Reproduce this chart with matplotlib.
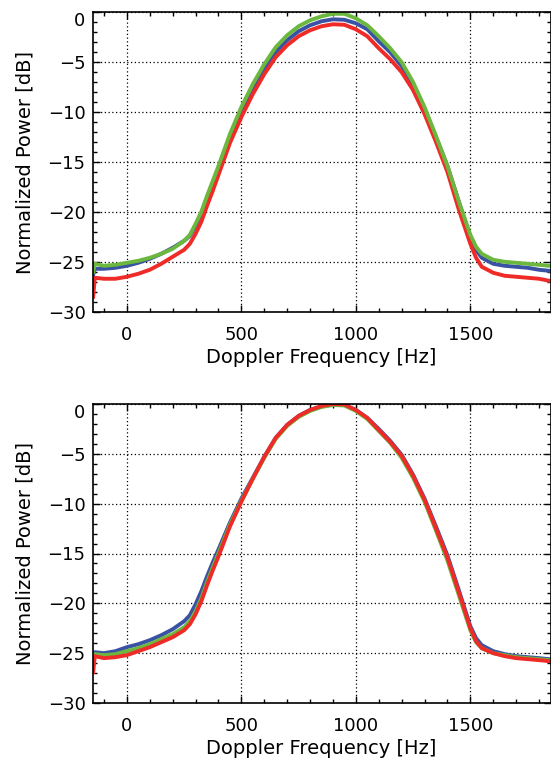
import matplotlib
matplotlib.use("Agg")
import matplotlib.pyplot as plt
from matplotlib.ticker import MultipleLocator

plt.rcParams['font.family'] = ['DejaVu Sans']
plt.rcParams['font.size'] = 13

# Doppler frequency samples [Hz]
freq = [-147, -140, -100, -50, 0, 50, 100, 150, 200, 250, 275, 300, 325, 350,
        375, 400, 450, 500, 550, 600, 650, 700, 750, 800, 850, 900, 950, 1000,
        1050, 1100, 1150, 1200, 1250, 1300, 1350, 1400, 1450, 1500, 1525, 1550,
        1600, 1650, 1700, 1750, 1800, 1843]

# upper panel [dB]
top_blue = [-26.3, -25.7, -25.7, -25.6, -25.4, -25.1, -24.7, -24.2, -23.6, -22.9,
            -22.4, -21.4, -20.2, -18.7, -17.2, -15.7, -12.6, -9.9, -7.6, -5.6,
            -4.0, -2.8, -1.9, -1.3, -0.9, -0.7, -0.75, -1.1, -1.7, -2.9, -4.0,
            -5.4, -7.3, -9.7, -12.5, -15.4, -19.0, -22.5, -23.8, -24.6, -25.2,
            -25.4, -25.5, -25.6, -25.8, -25.9]
top_red = [-28.5, -26.6, -26.7, -26.7, -26.5, -26.2, -25.8, -25.2, -24.5, -23.8,
           -23.2, -22.2, -21.0, -19.4, -17.9, -16.3, -13.1, -10.5, -8.2, -6.2,
           -4.5, -3.3, -2.4, -1.8, -1.4, -1.2, -1.25, -1.7, -2.4, -3.6, -4.7,
           -6.0, -7.8, -10.2, -13.0, -16.0, -19.8, -23.2, -24.6, -25.5, -26.1,
           -26.4, -26.5, -26.6, -26.7, -26.9]
top_green = [-26.0, -25.2, -25.4, -25.3, -25.1, -24.9, -24.6, -24.2, -23.7, -22.9,
             -22.3, -21.2, -20.0, -18.4, -16.9, -15.4, -12.2, -9.5, -7.2, -5.2,
             -3.5, -2.3, -1.4, -0.8, -0.4, -0.15, -0.15, -0.6, -1.3, -2.4, -3.6,
             -5.0, -7.0, -9.5, -12.4, -15.4, -19.0, -22.3, -23.5, -24.2, -24.8,
             -25.0, -25.1, -25.2, -25.3, -25.4]

# lower panel [dB]
bot_blue = [-25.9, -24.9, -25.0, -24.8, -24.4, -24.1, -23.7, -23.2, -22.6, -21.8,
            -21.2, -20.1, -18.8, -17.3, -15.9, -14.6, -11.9, -9.5, -7.4, -5.3,
            -3.4, -2.1, -1.2, -0.6, -0.25, -0.05, -0.1, -0.6, -1.4, -2.5, -3.7,
            -5.1, -7.1, -9.5, -12.3, -15.2, -18.7, -22.3, -23.5, -24.2, -24.8,
            -25.1, -25.3, -25.4, -25.5, -25.6]
bot_green = [-26.2, -25.1, -25.2, -25.1, -24.8, -24.5, -24.1, -23.6, -23.1, -22.4,
             -21.8, -20.8, -19.5, -17.9, -16.4, -15.0, -12.1, -9.7, -7.5, -5.4,
             -3.5, -2.2, -1.3, -0.7, -0.3, -0.1, -0.15, -0.7, -1.5, -2.7, -3.9,
             -5.4, -7.4, -9.8, -12.7, -15.7, -19.2, -22.7, -23.9, -24.5, -25.0,
             -25.2, -25.4, -25.5, -25.6, -25.7]
bot_red = [-26.9, -25.3, -25.5, -25.4, -25.2, -24.8, -24.4, -23.9, -23.4, -22.7,
           -22.1, -21.1, -19.8, -18.2, -16.7, -15.3, -12.3, -9.8, -7.5, -5.3,
           -3.4, -2.1, -1.2, -0.6, -0.2, 0.0, -0.05, -0.6, -1.4, -2.6, -3.8,
           -5.2, -7.2, -9.6, -12.5, -15.4, -18.9, -22.5, -23.8, -24.5, -25.0,
           -25.3, -25.5, -25.6, -25.7, -25.8]

BLUE = '#3a52a3'
GREEN = '#6cb83f'
RED = '#ee2b27'

fig = plt.figure(figsize=(5.51, 7.60), dpi=100)
ax_top = fig.add_axes([92.5 / 551, 1 - 311.7 / 760, 458 / 551, 299.4 / 760])
ax_bot = fig.add_axes([92.5 / 551, 1 - 703 / 760, 458 / 551, 299.0 / 760])

ax_top.plot(freq, top_blue, color=BLUE, lw=2.8)
ax_top.plot(freq, top_red, color=RED, lw=2.8)
ax_top.plot(freq, top_green, color=GREEN, lw=2.8)

ax_bot.plot(freq, bot_blue, color=BLUE, lw=2.8)
ax_bot.plot(freq, bot_green, color=GREEN, lw=2.8)
ax_bot.plot(freq, bot_red, color=RED, lw=2.8)

for ax in (ax_top, ax_bot):
    ax.set_xlim(-150, 1850)
    ax.set_ylim(-30, 0)
    ax.set_xticks([0, 500, 1000, 1500])
    ax.set_yticks([-30, -25, -20, -15, -10, -5, 0])
    ax.xaxis.set_minor_locator(MultipleLocator(100))
    ax.yaxis.set_minor_locator(MultipleLocator(1))
    ax.tick_params(which='both', direction='in', top=True, right=True,
                   color='black', width=1.0)
    ax.tick_params(which='major', length=5)
    ax.tick_params(which='minor', length=3)
    ax.tick_params(axis='x', which='major', pad=10)
    ax.tick_params(axis='y', which='major', pad=5)
    for s in ax.spines.values():
        s.set_linewidth(1.2)
    ax.grid(True, which='major', color='black', linestyle=(0, (1, 2)), lw=0.9)
    ax.set_axisbelow(True)
    ax.set_xlabel('Doppler Frequency [Hz]', fontsize=14, labelpad=3)
    ax.set_ylabel('Normalized Power [dB]', fontsize=14, labelpad=9)
    ax.get_yaxis().get_major_ticks()[-1].label1.set_verticalalignment('top')

fig.savefig('out.png', dpi=100)
